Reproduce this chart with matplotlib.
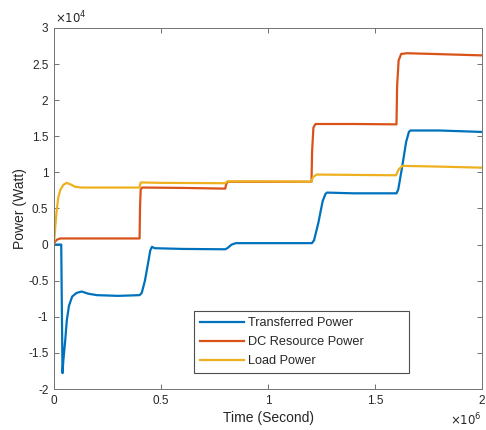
import numpy as np
import matplotlib
matplotlib.use("Agg")
import matplotlib.pyplot as plt
from matplotlib.ticker import FuncFormatter

# ------------------------------------------------------------
# Datos (tiempo en 1e6 s, potencia en 1e4 W)
# ------------------------------------------------------------
t_transfer = [0, 0.034, 0.040, 0.044, 0.052, 0.060, 0.070, 0.085, 0.105, 0.130,
              0.160, 0.200, 0.300, 0.400, 0.410, 0.425, 0.440, 0.450, 0.458, 0.470,
              0.600, 0.800, 0.810, 0.830, 0.850, 0.860, 1.000, 1.205, 1.215,
              1.235, 1.255, 1.268, 1.275, 1.400, 1.600, 1.608, 1.625, 1.645,
              1.658, 1.665, 1.800, 2.000]
p_transfer = [0, 0, -1.78, -1.60, -1.35, -1.05, -0.85, -0.72, -0.67, -0.65,
              -0.68, -0.70, -0.71, -0.70, -0.67, -0.50, -0.25, -0.08, -0.03, -0.05,
              -0.06, -0.065, -0.05, 0.00, 0.02, 0.02, 0.02, 0.02, 0.06,
              0.30, 0.60, 0.70, 0.72, 0.71, 0.71, 0.76, 1.05, 1.42,
              1.56, 1.58, 1.58, 1.56]

t_dc = [0, 0.005, 0.015, 0.030, 0.100, 0.400, 0.402, 0.405, 0.412, 0.600,
        0.800, 0.805, 0.812, 1.000, 1.203, 1.206, 1.212, 1.222, 1.400,
        1.600, 1.603, 1.610, 1.622, 1.650, 2.000]
p_dc = [0, 0.04, 0.07, 0.085, 0.085, 0.085, 0.50, 0.76, 0.79, 0.785,
        0.775, 0.84, 0.87, 0.87, 0.87, 1.30, 1.62, 1.67, 1.67,
        1.665, 2.20, 2.55, 2.64, 2.65, 2.62]

t_load = [0, 0.005, 0.012, 0.020, 0.030, 0.045, 0.060, 0.080, 0.100, 0.130,
          0.200, 0.400, 0.405, 0.415, 0.500, 0.800, 0.810, 1.000, 1.200,
          1.212, 1.228, 1.400, 1.598, 1.610, 1.628, 1.800, 2.000]
p_load = [0, 0.20, 0.45, 0.65, 0.76, 0.83, 0.855, 0.83, 0.80, 0.79,
          0.79, 0.79, 0.86, 0.86, 0.855, 0.85, 0.875, 0.875, 0.87,
          0.94, 0.97, 0.965, 0.96, 1.04, 1.09, 1.08, 1.065]

series = [
    ("Transferred Power", t_transfer, p_transfer, "#0072BD"),
    ("DC Resource Power", t_dc, p_dc, "#D95319"),
    ("Load Power", t_load, p_load, "#EDB120"),
]

x_ticks = [0, 0.5, 1, 1.5, 2]
y_ticks = [-2, -1.5, -1, -0.5, 0, 0.5, 1, 1.5, 2, 2.5, 3]

# ------------------------------------------------------------
# Figura estilo MATLAB
# ------------------------------------------------------------
plt.rcParams["font.family"] = ["Liberation Sans", "DejaVu Sans"]
txt = "#262626"
fig = plt.figure(figsize=(4.86, 4.30), dpi=100)
ax = fig.add_axes([0.111, 0.0953, 0.881, 0.8397])

for name, t, p, c in series:
    ax.plot(np.array(t) * 1e6, np.array(p) * 1e4, color=c, lw=1.6, label=name)

ax.set_xlim(0, 2e6); ax.set_ylim(-2e4, 3e4)
ax.set_xticks([v * 1e6 for v in x_ticks])
ax.set_yticks([v * 1e4 for v in y_ticks])
ax.xaxis.set_major_formatter(FuncFormatter(lambda v, _: f"{v/1e6:g}"))
ax.yaxis.set_major_formatter(FuncFormatter(lambda v, _: f"{v/1e4:g}"))
ax.tick_params(direction="in", length=3.5, width=0.6, colors="0.35",
               labelcolor=txt, labelsize=8.5, top=True, right=True, pad=4)
for s in ax.spines.values():
    s.set_color("0.45"); s.set_linewidth(0.7)

ax.set_xlabel("Time (Second)", fontsize=10, color=txt, labelpad=3)
ax.set_ylabel("Power (Watt)", fontsize=10, color=txt, labelpad=1)

fig.text(0.113, 0.94, r"$\times10^{4}$", fontsize=8.5, color=txt, ha="left", va="bottom")
fig.text(0.992, 0.005, r"$\times10^{6}$", fontsize=8.5, color=txt, ha="right", va="bottom")

leg = ax.legend(loc="lower left", bbox_to_anchor=(0.327, 0.044, 0.502, 0.175),
                mode="expand", fontsize=9.2,
                handlelength=3.5, handletextpad=0.3, labelspacing=0.56,
                borderpad=0.45, borderaxespad=0, fancybox=False, framealpha=1,
                edgecolor="0.3")
leg.get_frame().set_linewidth(0.8)
for tx in leg.get_texts():
    tx.set_color(txt)

fig.savefig("out.png", dpi=100)
